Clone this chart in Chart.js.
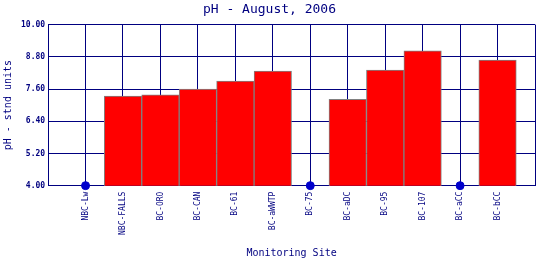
<!DOCTYPE html>
<html>
<head>
<meta charset="utf-8">
<script src="https://cdn.jsdelivr.net/npm/chart.js@4.4.1/dist/chart.umd.min.js"></script>
<style>
  html, body { margin: 0; padding: 0; background: #fff; }
  #wrap { width: 540px; height: 260px; }
</style>
</head>
<body>
<div id="wrap"><canvas id="phChart" width="540" height="260"></canvas></div>
<script>
// sites along the x axis
const sites = ['NBC-Lw', 'NBC-FALLS', 'BC-ORO', 'BC-CAN', 'BC-61', 'BC-aWWTP', 'BC-75', 'BC-aDC', 'BC-95', 'BC-107', 'BC-aCC', 'BC-bCC'];
// pH values (null = no sample)
const phValues = [null, 7.34, 7.38, 7.60, 7.90, 8.27, null, 7.22, 8.31, 9.02, null, 8.68];
const yTicks = [4.00, 5.20, 6.40, 7.60, 8.80, 10.00];

const NAVY = '#000080';
const MONO = '"DejaVu Sans Mono", "Liberation Mono", monospace';

// blank slots at both ends so the sites sit on gridlines 1..12 of 0..13
const labels = [''].concat(sites, ['']);
const barData = [null].concat(phValues, [null]);
// missing samples get a dot sitting on the axis floor
const missingData = [null].concat(phValues.map(v => v === null ? yTicks[0] : null), [null]);

new Chart(document.getElementById('phChart').getContext('2d'), {
    type: 'bar',
    data: {
        labels: labels,
        datasets: [
            {
                label: 'pH',
                data: barData,
                backgroundColor: '#ff0000',
                borderColor: '#808080',
                borderWidth: 1,
                barPercentage: 1,
                categoryPercentage: 1,
                order: 2
            },
            {
                type: 'line',
                label: 'no data',
                data: missingData,
                showLine: false,
                pointRadius: 4,
                pointHoverRadius: 4,
                pointBackgroundColor: '#0000cc',
                pointBorderColor: '#0000cc',
                clip: false,
                order: 1
            }
        ]
    },
    options: {
        responsive: false,
        animation: false,
        devicePixelRatio: 1,
        layout: { padding: { top: 0, right: 1, bottom: 0, left: 0 } },
        plugins: {
            legend: { display: false },
            tooltip: { enabled: false },
            title: {
                display: true,
                text: 'pH - August, 2006',
                color: NAVY,
                font: { family: MONO, size: 13, weight: 'normal' },
                padding: { top: 2, bottom: 7 }
            }
        },
        scales: {
            x: {
                type: 'category',
                offset: false,
                // the end slots are blank, so no room is needed for their labels
                afterFit: axis => { axis.paddingLeft = 0; axis.paddingRight = 0; },
                grid: { color: NAVY, lineWidth: 1, drawTicks: false, offset: false },
                border: { color: NAVY, width: 1 },
                ticks: {
                    autoSkip: false,
                    maxRotation: 90,
                    minRotation: 90,
                    padding: 6,
                    color: NAVY,
                    font: { family: MONO, size: 8 }
                },
                title: {
                    display: true,
                    text: 'Monitoring Site',
                    color: NAVY,
                    font: { family: MONO, size: 10 },
                    padding: { top: 6, bottom: 1 }
                }
            },
            y: {
                min: 4,
                max: 10,
                afterBuildTicks: axis => { axis.ticks = yTicks.map(v => ({ value: v })); },
                grid: { color: NAVY, lineWidth: 1, drawTicks: false },
                border: { color: NAVY, width: 1 },
                ticks: {
                    padding: 3,
                    color: NAVY,
                    font: { family: MONO, size: 8, weight: 'bold' },
                    callback: v => Number(v).toFixed(2)
                },
                title: {
                    display: true,
                    text: 'pH - stnd units',
                    color: NAVY,
                    font: { family: MONO, size: 10 },
                    padding: { top: 2, bottom: 4 }
                }
            }
        }
    }
});
</script>
</body>
</html>
